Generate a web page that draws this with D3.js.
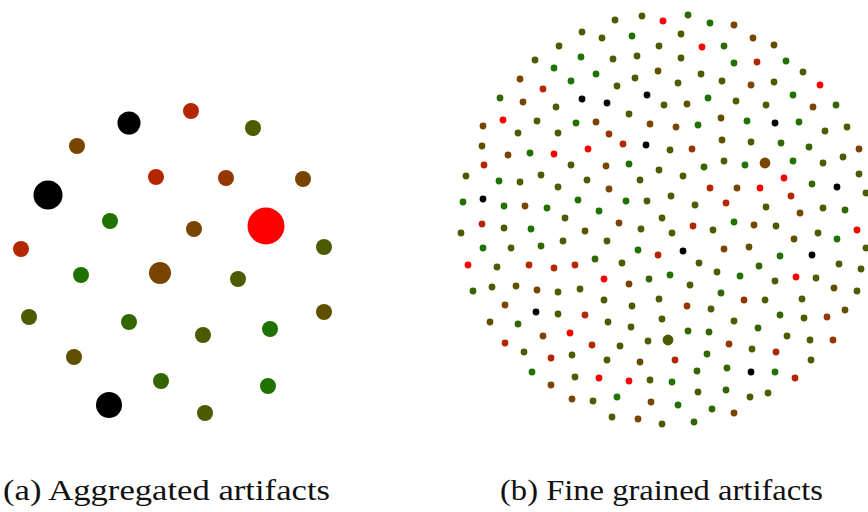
<!DOCTYPE html>
<html><head><meta charset="utf-8">
<script src="https://cdn.jsdelivr.net/npm/d3@7"></script>
<style>html,body{margin:0;padding:0;background:#fff;} svg{display:block}</style>
</head><body>
<svg id="chart" width="868" height="512"></svg>
<script>
// risk level codes -> position on the green→red scale (K = unknown, drawn black)
const levelCodes  = ["G", "g", "O", "o", "B", "b", "R", "X", "K"];
const levelValues = [0.12, 0.2, 0.3, 0.38, 0.47, 0.58, 0.7, 1, null];

const captions = ["(a) Aggregated artifacts", "(b) Fine grained artifacts"];

// [x, y, level, count] — aggregated artifacts
const aggArtifacts = [
[19,151,"R",1],[-43,139,"K",2.07],[81,134,"O",1],[-95,116,"B",1],[-16,85,"R",1],[54,84,"b",1],
[131,83,"B",1],[-124,67,"K",3.3],[-62,41,"G",1],[22,33,"B",1],[94,36,"X",5.35],[152,15,"O",1],
[-151,13,"R",1],[-91,-13,"G",1],[-12,-11,"B",1.9],[66,-17,"O",1],[-143,-55,"O",1],[-43,-60,"g",1],
[31,-73,"O",1],[98,-67,"G",1],[152,-50,"o",1],[-98,-95,"o",1],[-11,-119,"g",1],[96,-124,"G",1],
[-63,-143,"K",2.64],[33,-151,"O",1]
];

// [x, y, level, count?] — fine grained artifacts (count defaults to 1)
const fineArtifacts = [
[-107,173,"O"],[-131,159,"O"],[-112,151,"G"],[-146,140,"B"],[-123,130,"R"],[-166,121,"g"],[-143,117,"B"],[-110,112,"O"],[-163,99,"X"],[-183,93,"B"],[-129,98,"O"],[-148,86,"O"],[-108,86,"O"],[-184,73,"o"],[-158,64,"B"],[-136,66,"G"],[-112,65,"X"],[-182,54,"R"],[-200,43,"O"],[-167,38,"G"],[-146,37,"O"],[-125,44,"O"],[-108,32,"O"],[-203,17,"G"],[-183,20,"K"],[-162,13,"G"],[-141,13,"B"],[-119,11,"G"],
[-51,199,"O"],[-24,203,"O"],[-3,198,"X"],[-84,187,"O"],[-64,181,"O"],[-34,183,"G"],[-85,162,"G"],[-53,160,"O"],[-29,163,"O"],[-7,173,"O"],[-70,145,"G"],[-95,138,"G"],[-49,133,"O"],[-31,141,"O"],[-8,148,"o"],[-84,120,"K"],[-59,116,"K"],[-19,124,"K"],[-2,114,"O"],[-37,105,"O"],[-90,96,"G"],[-70,97,"B"],[-16,95,"B"],[-57,85,"b"],[-43,75,"R"],[-20,74,"K"],[-78,70,"X"],[-95,54,"O"],[-60,53,"B"],[-37,55,"G"],[-7,49,"O"],[-79,39,"O"],[-57,30,"B"],[-26,39,"O"],[-88,19,"G"],[-67,8,"G"],[-40,18,"G"],[-19,18,"O"],
[22,204,"g"],[44,196,"G"],[68,194,"B"],[15,185,"O"],[36,172,"X"],[58,173,"g"],[87,181,"B"],[15,161,"O"],[68,156,"G"],[91,157,"R"],[35,145,"O"],[12,136,"O"],[56,138,"O"],[85,134,"B"],[21,115,"o"],[42,121,"G"],[70,118,"O"],[100,114,"O"],[10,92,"B"],[32,94,"G"],[55,101,"o"],[81,98,"G"],[4,69,"O"],[26,70,"b"],[56,79,"o"],[85,77,"O"],[38,52,"g"],[58,58,"O"],[79,54,"G"],[99,56,"B",2.5],[17,43,"O"],[44,31,"R"],[71,31,"B"],[94,31,"X"],[5,23,"O"],[29,14,"O"],[60,16,"R"],[100,12,"O"],
[108,174,"o"],[120,158,"G"],[137,147,"O"],[108,137,"O"],[154,134,"X"],[127,124,"G"],[147,112,"B"],[170,114,"g"],[109,96,"K"],[133,97,"G"],[159,88,"O"],[181,92,"O"],[115,76,"g"],[143,72,"g"],[127,58,"G"],[157,56,"O"],[177,62,"O"],[193,70,"B"],[118,41,"X"],[146,35,"g"],[171,32,"K"],[193,45,"O"],[125,23,"R"],[157,11,"O"],[179,9,"g"],[200,26,"O"],[134,6,"B"],
[-184,-5,"R"],[-205,-14,"O"],[-162,-9,"O"],[-135,-10,"G"],[-183,-29,"G"],[-155,-29,"O"],[-125,-27,"g"],[-198,-46,"X"],[-169,-48,"O"],[-137,-46,"R"],[-112,-49,"R"],[-193,-72,"g"],[-174,-68,"O"],[-150,-67,"o"],[-129,-71,"B"],[-108,-73,"O"],[-161,-86,"B"],[-130,-93,"K"],[-108,-95,"O"],[-176,-103,"o"],[-148,-105,"g"],[-123,-117,"B"],[-161,-124,"R"],[-142,-133,"O"],[-115,-139,"R"],[-134,-153,"G"],[-115,-166,"B"],
[-101,1,"O"],[-47,-4,"B"],[-4,1,"O"],[-81,-12,"o"],[-25,-10,"O"],[-103,-22,"O"],[-59,-22,"O"],[-28,-31,"G"],[-8,-36,"R"],[-71,-40,"g"],[-44,-44,"O"],[-91,-46,"R"],[-62,-60,"X"],[-37,-65,"B"],[-17,-60,"g"],[-86,-70,"O"],[-62,-81,"O"],[-34,-87,"O"],[-7,-80,"O"],[-81,-96,"R"],[-58,-103,"O"],[-35,-108,"O"],[-4,-100,"O"],[-96,-114,"X"],[-74,-126,"R"],[-46,-127,"O"],[-18,-122,"O"],[-94,-136,"O"],[-59,-141,"O"],[-26,-143,"o"],[-91,-158,"O"],[-67,-159,"X"],[-37,-162,"X"],[-16,-161,"O"],[-94,-180,"B"],[-73,-182,"O"],[-49,-178,"G"],[-15,-183,"B"],[-54,-198,"O"],[-28,-200,"B"],[-4,-205,"O"],
[6,-14,"O"],[27,-7,"R"],[47,-11,"O"],[68,-3,"G"],[88,-6,"B"],[17,-32,"K"],[58,-30,"B"],[83,-28,"o"],[33,-44,"O"],[4,-56,"G"],[51,-53,"O"],[74,-57,"G"],[93,-47,"g"],[24,-66,"O"],[55,-74,"g"],[78,-81,"b"],[99,-81,"O"],[21,-87,"b"],[45,-90,"O"],[68,-102,"O"],[2,-121,"O",2.5],[22,-112,"g"],[43,-113,"g"],[92,-109,"g"],[63,-125,"b"],[86,-130,"O"],[9,-141,"R"],[41,-135,"g"],[31,-152,"g"],[61,-149,"g"],[85,-153,"K"],[6,-163,"G"],[32,-173,"O"],[60,-171,"g"],[84,-178,"O"],[102,-174,"O"],[12,-186,"G"],[46,-190,"g"],[68,-194,"B"],[28,-203,"g"],
[110,-7,"O"],[152,-14,"O"],[191,-11,"X"],[128,-20,"o"],[171,-20,"G"],[200,-29,"O"],[114,-37,"G"],[146,-36,"K"],[173,-45,"O"],[195,-50,"O"],[109,-62,"O"],[130,-58,"X"],[150,-59,"O"],[168,-69,"o"],[191,-72,"O"],[136,-80,"O"],[114,-96,"g"],[138,-99,"O"],[161,-98,"b"],[179,-91,"o"],[121,-117,"O"],[144,-121,"O"],[167,-121,"b"],[110,-133,"R"],[145,-141,"O"],[109,-153,"G"],[129,-159,"R"]
];

const svg = d3.select("#chart");
const levelMap = new Map(levelCodes.map((c, i) => [c, levelValues[i]]));
const riskColor = d3.scaleLinear().domain([0, 1]).range(["#008000", "#ff0000"]);
const colorOf = code => {
  const v = levelMap.get(code);
  return v == null ? "#000000" : riskColor(v);
};

// Panel (a)
const ax = d3.scaleLinear().domain([-180, 180]).range([172 - 180, 172 + 180]);
const ay = d3.scaleLinear().domain([-180, 180]).range([262 + 180, 262 - 180]);
const ar = d3.scaleSqrt().domain([0, 1]).range([0, 8]);
svg.append("g").selectAll("circle").data(aggArtifacts).join("circle")
  .attr("cx", d => ax(d[0])).attr("cy", d => ay(d[1]))
  .attr("r", d => ar(d[3]))
  .attr("fill", d => colorOf(d[2]));

// Panel (b)
const bx = d3.scaleLinear().domain([-215, 215]).range([666 - 215, 666 + 215]);
const by = d3.scaleLinear().domain([-215, 215]).range([219 + 215, 219 - 215]);
const br = d3.scaleSqrt().domain([0, 1]).range([0, 3.4]);
svg.append("g").selectAll("circle").data(fineArtifacts).join("circle")
  .attr("cx", d => bx(d[0])).attr("cy", d => by(d[1]))
  .attr("r", d => br(d[3] == null ? 1 : d[3]))
  .attr("fill", d => colorOf(d[2]));

// Captions
const capX = [3, 500], capLen = [327, 323];
svg.append("g").selectAll("text").data(captions).join("text")
  .attr("x", (d, i) => capX[i]).attr("y", 500)
  .attr("textLength", (d, i) => capLen[i])
  .attr("lengthAdjust", "spacingAndGlyphs")
  .attr("font-family", "Liberation Serif, Times New Roman, Times, serif")
  .attr("font-size", 30)
  .attr("fill", "#111")
  .text(d => d);
</script>
</body></html>
